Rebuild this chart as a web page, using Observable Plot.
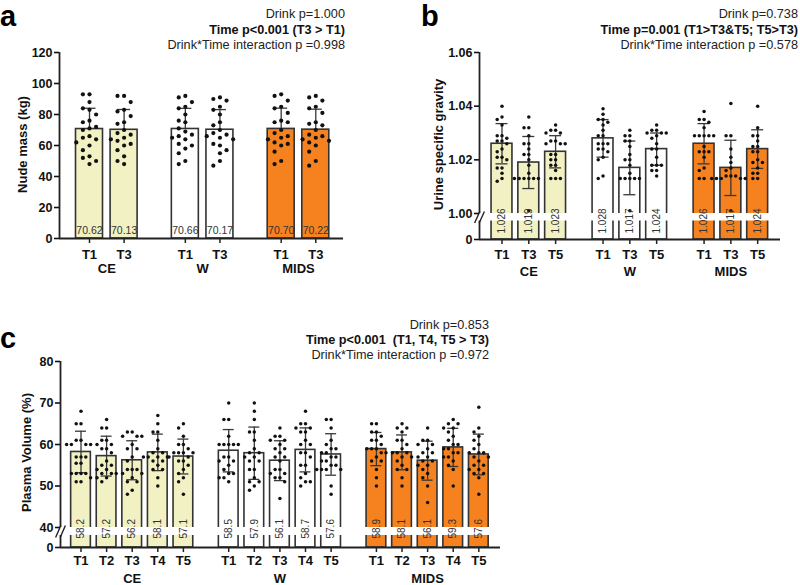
<!DOCTYPE html>
<html><head><meta charset="utf-8">
<script src="https://cdn.jsdelivr.net/npm/d3@7"></script>
<script src="https://cdn.jsdelivr.net/npm/@observablehq/plot@0.6"></script>
<style>
body{margin:0;background:#fff;font-family:"Liberation Sans",Arial,sans-serif;}
#root{position:relative;width:800px;height:585px;overflow:hidden;background:#fff;}
.stats{position:absolute;text-align:right;font-size:12.7px;line-height:15.3px;color:#222;white-space:pre;}
.stats .b{font-weight:bold;color:#111;}
.letter{position:absolute;font-weight:bold;font-size:29px;line-height:normal;color:#000;}
</style></head>
<body><div id="root"></div>
<script>
// ---------- shared ----------
const groups = ["CE", "W", "MIDS"];
const groupFill = ["#f2f1c3", "#ffffff", "#f5821f"];

// ---------- panel a : nude mass ----------
const massTimes = ["T1", "T3"];
const massMean = [70.62, 70.13, 70.66, 70.17, 70.70, 70.22];
const massSD = [13.4, 13.1, 13.3, 13.0, 13.4, 13.2];
const massTicks = [0, 20, 40, 60, 80, 100, 120];
const massPoints = [
  [93,93,88,84,83,80,76,75,72,71,70,66,65,64,62,60,57,53,52,50,48],
  [92,92,88,83,82,79,75,74,70,68,67,65,64,63,61,60,57,53,50,48],
  [92,91,88,85,84,80,76,75,71,69,67,66,65,64,61,60,58,55,50,48],
  [91,90,89,85,83,80,75,73,70,68,67,66,65,64,61,60,57,55,50,47],
  [93,92,89,85,84,81,76,75,75,70,68,66,65,64,62,61,60,56,50,48],
  [92,91,89,85,84,81,75,74,73,70,67,66,65,64,63,62,60,56,50,47]
];
const massStats = ["Drink p=1.000", "Time p<0.001 (T3 > T1)", "Drink*Time interaction p =0.998"];

// ---------- panel b : urine specific gravity ----------
const usgTimes = ["T1", "T3", "T5"];
const usgMean = [1.026, 1.019, 1.023, 1.028, 1.017, 1.024, 1.026, 1.017, 1.024];
const usgSD = [0.0075, 0.0097, 0.006, 0.007, 0.010, 0.006, 0.0075, 0.0103, 0.0072];
const usgTicks = [0, 1.00, 1.02, 1.04, 1.06];
const usgPoints = [
  [1.040,1.036,1.035,1.033,1.029,1.029,1.028,1.027,1.027,1.026,1.024,1.023,1.021,1.021,1.020,1.017,1.017,1.015,1.013,1.012],
  [1.036,1.032,1.032,1.029,1.026,1.026,1.024,1.022,1.022,1.020,1.018,1.015,1.013,1.013,1.013,1.013,1.013,1.013,1.001],
  [1.033,1.031,1.031,1.030,1.030,1.027,1.027,1.026,1.026,1.026,1.022,1.022,1.020,1.020,1.018,1.018,1.016,1.013,1.013,1.013],
  [1.039,1.037,1.035,1.035,1.034,1.033,1.031,1.029,1.029,1.026,1.026,1.026,1.024,1.024,1.023,1.021,1.020,1.014,1.013],
  [1.031,1.029,1.029,1.027,1.027,1.025,1.022,1.020,1.020,1.018,1.015,1.013,1.013,1.013,1.013,1.013,1.001],
  [1.033,1.031,1.031,1.030,1.030,1.030,1.029,1.028,1.026,1.024,1.024,1.021,1.018,1.018,1.018,1.016,1.016,1.014],
  [1.038,1.035,1.035,1.034,1.032,1.029,1.029,1.029,1.029,1.029,1.025,1.023,1.023,1.023,1.021,1.017,1.016,1.013,1.013],
  [1.041,1.029,1.029,1.024,1.021,1.019,1.017,1.016,1.014,1.014,1.014,1.013,1.013,1.013,1.013,1.013,1.001],
  [1.040,1.032,1.029,1.029,1.027,1.025,1.025,1.023,1.023,1.020,1.019,1.019,1.017,1.015,1.015,1.013,1.013]
];
const usgStats = ["Drink p=0.738", "Time p=0.001 (T1>T3&T5; T5>T3)", "Drink*Time interaction p =0.578"];

// ---------- panel c : plasma volume ----------
const pvTimes = ["T1", "T2", "T3", "T4", "T5"];
const pvMean = [58.2, 57.2, 56.2, 58.1, 57.1, 58.5, 57.9, 56.1, 58.7, 57.6, 58.9, 58.1, 56.1, 59.3, 57.6];
const pvSD = [5.0, 4.8, 4.7, 4.4, 4.2, 5.1, 6.3, 4.8, 5.3, 5.0, 4.0, 4.2, 4.7, 4.6, 4.9];
const pvTicks = [0, 40, 50, 60, 70, 80];
const pvPoints = [
  [68,65,65,61,61,60,60,60,60,57,57,57,55.5,55.5,53,53,53,53,52,51,51],
  [66,64,64,61,61,60,60,59,59,58,56,55,55,54,54,53,53,53,52,52,51],
  [63,63,62,62,62,60,59,59,57,56,54,54,54,53,53,52,51,51,49,48],
  [67,65,63,63,61,59,58,58,57,57,57,57,56,56,55,54,54,52,50],
  [65,64,62,60,60,59,58,58,58,58,57,57,56,56,55,54,53,52,51,48],
  [70,66,66,62,60,60,60,60,60,57,57,56,56,55,54,53,53,52,52,51],
  [70,68,66,63,63,61,59,58,58,57,57,56,56,54,54,52,51,51,50,49],
  [64,62,62,61,61,60,59,59,58,57,57,56,54,54,53,53,52,52,51,47],
  [68,65,65,64,64,63,63,61,60,60,58,58,57,55,55,53,52,51,51,50],
  [66,66,64,61,60,59,59,58,58,57,57,56,56,55,55,54,54,54,54,50,48],
  [65,65,63,63,62,61,61,60,59,59,59,58,58,57,56,56,54,52,50],
  [65,64,64,63,61,61,60,59,58,58,58,57,57,56,55,54,54,52,50],
  [64,61,61,60,60,59,58,58,57,57,56,56,55,55,54,53,52,50,46],
  [66,65,65,64,64,63,62,61,60,60,59,59,58,58,57,57,56,55,54,50],
  [69,64,63,62,61,60,59,58,58,58,57,57,56,55,55,54,54,53,53,52,48]
];
const pvStats = ["Drink p=0.853", "Time p<0.001  (T1, T4, T5 > T3)", "Drink*Time interaction p =0.972"];

// ---------- helpers ----------
const FONT = "'Liberation Sans', Arial, Helvetica, sans-serif";

function swarm(vals, yf, sp) {
  const items = vals.map((v, i) => ({v, y: yf(v), i})).sort((a, b) => a.y - b.y);
  const placed = [];
  const out = new Array(vals.length);
  for (const it of items) {
    let off = 0;
    for (let n = 0; n < 60; n++) {
      off = n === 0 ? 0 : (n % 2 ? -1 : 1) * Math.ceil(n / 2) * sp;
      if (placed.every(p => Math.hypot(p.x - off, p.y - it.y) >= sp * 0.97)) break;
    }
    placed.push({x: off, y: it.y});
    out[it.i] = off;
  }
  return out;
}

function drawPanel(cfg) {
  const nT = cfg.times.length;
  const stride = nT + cfg.gap;
  const rows = [];
  groups.forEach((g, gi) => cfg.times.forEach((t, ti) => {
    const k = gi * nT + ti;
    rows.push({group: g, time: t, pos: gi * stride + ti, mean: cfg.means[k], sd: cfg.sds[k], fill: groupFill[gi], pts: cfg.points[k]});
  }));
  const x0 = (cfg.axisStart - cfg.firstCenter) / cfg.unit;
  const x1 = (cfg.axisEnd - cfg.firstCenter) / cfg.unit;
  const ys = Plot.scale({y: {type: "linear", domain: cfg.yDomain, range: cfg.yRange}});
  const yPx = v => ys.apply(v);
  const yVal = p => ys.invert(p);
  const yBase = cfg.yDomain[0];
  const yTop = cfg.yDomain[cfg.yDomain.length - 1];
  const y0px = cfg.yRange[0];

  const dots = [];
  rows.forEach(r => {
    const offs = swarm(r.pts, yPx, cfg.spacing);
    r.pts.forEach((v, i) => dots.push({x: r.pos + offs[i] / cfg.unit, v}));
  });

  const bw = cfg.barW / 2;
  const capU = cfg.capHalf / cfg.unit;
  const errCol = "#383838";
  const marks = [
    Plot.rectY(rows, {x1: d => d.pos - bw, x2: d => d.pos + bw, y1: yBase, y2: "mean", fill: "fill", stroke: "#333", strokeWidth: 1.6}),
    Plot.ruleX(rows, {x: "pos", y1: d => cfg.lowerErr ? d.mean - d.sd : d.mean, y2: d => d.mean + d.sd, stroke: errCol, strokeWidth: 1.3}),
    Plot.ruleY(rows, {y: d => d.mean + d.sd, x1: d => d.pos - capU, x2: d => d.pos + capU, stroke: errCol, strokeWidth: 1.3})
  ];
  if (cfg.lowerErr) {
    marks.push(Plot.ruleY(rows, {y: d => d.mean - d.sd, x1: d => d.pos - capU, x2: d => d.pos + capU, stroke: errCol, strokeWidth: 1.3}));
  }
  marks.push(Plot.dot(dots, {x: "x", y: "v", r: cfg.r, fill: "#111"}));
  // axis lines
  marks.push(Plot.ruleX([x0], {y1: yBase, y2: yTop, stroke: "#222", strokeWidth: 1.8}));
  marks.push(Plot.ruleY([yBase], {x1: x0, x2: x1, stroke: "#222", strokeWidth: 1.8}));
  // x ticks
  marks.push(Plot.ruleX(rows, {x: "pos", y1: yBase, y2: yVal(y0px + 5), stroke: "#222", strokeWidth: 1.5}));
  // axis break
  if (cfg.breakAt !== undefined) {
    const topPx = yPx(cfg.breakAt);
    const botPx = topPx + cfg.bandPx;
    marks.push(Plot.rect([cfg.breakAt], {x1: x0 - 4 / cfg.unit, x2: x1, y1: yVal(botPx), y2: d => d, fill: "white"}));
    const sl = [-2.3, 2.3].map(o => ({xa: x0 + (o - 2.6) / cfg.unit, ya: yVal(botPx + 2), xb: x0 + (o + 2.6) / cfg.unit, yb: yVal(topPx - 2)}));
    marks.push(Plot.link(sl, {x1: "xa", y1: "ya", x2: "xb", y2: "yb", stroke: "#222", strokeWidth: 1.4}));
  }
  // value labels
  if (cfg.rotateLabels) {
    marks.push(Plot.text(rows, {x: "pos", y: yBase, text: d => d.mean.toFixed(cfg.decimals), rotate: -90, textAnchor: "start", dy: -cfg.labelOffset, fontSize: 10, fill: "#333"}));
  } else {
    marks.push(Plot.text(rows, {x: "pos", y: yBase, text: d => d.mean.toFixed(cfg.decimals), dy: -cfg.labelOffset, fontSize: 10.5, fill: "#333"}));
  }
  // category labels
  marks.push(Plot.text(rows, {x: "pos", y: yBase, text: "time", dy: cfg.timeDy, fontWeight: "bold", fontSize: 13, fill: "#111"}));
  const gl = groups.map((g, gi) => ({g, pos: gi * stride + (nT - 1) / 2}));
  marks.push(Plot.text(gl, {x: "pos", y: yBase, text: "g", dy: cfg.groupDy, fontWeight: "bold", fontSize: 13, fill: "#111"}));
  // y axis
  marks.push(Plot.axisY({ticks: cfg.ticks, tickFormat: cfg.tickFormat, tickSize: 5, tickPadding: 2, fontSize: 12.5, fontWeight: "bold", strokeWidth: 1.6, label: null, fill: "#111"}));
  marks.push(Plot.text([cfg.yTitle], {text: d => d, frameAnchor: "left", textAnchor: "middle", lineAnchor: "middle", rotate: -90, dx: cfg.titleDx, dy: cfg.titleDy || 0, fontSize: 13, fontWeight: "bold", fill: "#111"}));

  const svg = Plot.plot({
    width: cfg.w, height: cfg.h,
    marginLeft: cfg.axisStart, marginRight: cfg.w - cfg.axisEnd,
    marginTop: cfg.yRange[cfg.yRange.length - 1], marginBottom: cfg.h - y0px,
    x: {type: "linear", domain: [x0, x1], axis: null},
    y: {type: "linear", domain: cfg.yDomain, range: cfg.yRange, axis: null},
    color: {type: "identity"},
    style: {fontFamily: FONT, color: "#111", background: "transparent", overflow: "visible"},
    marks
  });
  svg.style.position = "absolute";
  svg.style.left = cfg.left + "px";
  svg.style.top = cfg.top + "px";
  document.getElementById("root").appendChild(svg);
}

function addStats(lines, right, top) {
  const d = document.createElement("div");
  d.className = "stats";
  d.style.right = right + "px";
  d.style.top = top + "px";
  lines.forEach((t, i) => {
    const s = document.createElement("div");
    if (i === 1) s.className = "b";
    s.textContent = t;
    d.appendChild(s);
  });
  document.getElementById("root").appendChild(d);
}
function addLetter(ch, left, top) {
  const d = document.createElement("div");
  d.className = "letter";
  d.style.left = left + "px";
  d.style.top = top + "px";
  d.textContent = ch;
  document.getElementById("root").appendChild(d);
}

// ---------- draw ----------
drawPanel({
  left: 0, top: 0, w: 400, h: 285,
  times: massTimes, means: massMean, sds: massSD, points: massPoints,
  gap: 0.77, firstCenter: 89, unit: 34.6, axisStart: 59, axisEnd: 343,
  yDomain: [0, 120], yRange: [238, 52], ticks: massTicks, tickFormat: d => String(d),
  barW: 0.78, capHalf: 6.5, r: 2.1, spacing: 6.6, lowerErr: false,
  rotateLabels: false, decimals: 2, labelOffset: 7.5,
  timeDy: 16, groupDy: 30, yTitle: "Nude mass (kg)", titleDx: -36.5, titleDy: -1
});
drawPanel({
  left: 400, top: 0, w: 400, h: 285,
  times: usgTimes, means: usgMean, sds: usgSD, points: usgPoints,
  gap: 0.77, firstCenter: 101.5, unit: 26.8, axisStart: 79, axisEnd: 380,
  yDomain: [0, 1.00, 1.06], yRange: [239, 213, 52], ticks: usgTicks, tickFormat: d => d === 0 ? "0" : d.toFixed(2),
  barW: 0.78, capHalf: 6, r: 1.75, spacing: 4.8, lowerErr: true,
  breakAt: 1.00, bandPx: 7.5,
  rotateLabels: true, decimals: 3, labelOffset: 6,
  timeDy: 15, groupDy: 32, yTitle: "Urine specific gravity", titleDx: -40.5, titleDy: -1.5
});
drawPanel({
  left: 0, top: 285, w: 520, h: 300,
  times: pvTimes, means: pvMean, sds: pvSD, points: pvPoints,
  gap: 0.77, firstCenter: 80.5, unit: 25.6, axisStart: 60, axisEnd: 500,
  yDomain: [0, 40, 80], yRange: [262, 242, 76], ticks: pvTicks, tickFormat: d => String(d),
  barW: 0.77, capHalf: 5.5, r: 1.75, spacing: 4.8, lowerErr: true,
  breakAt: 40, bandPx: 8,
  rotateLabels: true, decimals: 1, labelOffset: 9,
  timeDy: 13, groupDy: 31, yTitle: "Plasma Volume (%)", titleDx: -34, titleDy: -2
});

addStats(massStats, 455, 7.3);
addStats(usgStats, 2, 7.3);
addStats(pvStats, 311, 317.5);
addLetter("a", 0, 0);
addLetter("b", 421, 0);
addLetter("c", 0, 322);
</script>
</body></html>
